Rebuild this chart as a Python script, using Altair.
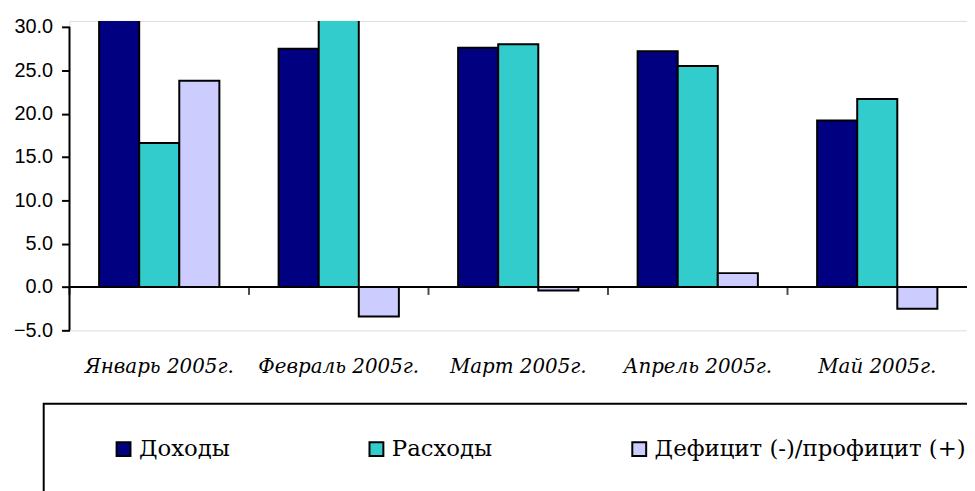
import altair as alt
import pandas as pd

months = ["Январь 2005г.", "Февраль 2005г.", "Март 2005г.", "Апрель 2005г.", "Май 2005г."]
series = ["Доходы", "Расходы", "Дефицит (-)/профицит (+)"]
income = [40.4, 27.5, 27.6, 27.2, 19.2]
expense = [16.6, 30.9, 28.0, 25.5, 21.7]
balance = [23.8, -3.4, -0.4, 1.6, -2.5]
colors = ["#000080", "#33CCCC", "#CCCCFF"]
y_ticks = [-5, 0, 5, 10, 15, 20, 25, 30]
y_max_shown = 30.7

rows = []
for i, m in enumerate(months):
    for s, vals in zip(series, [income, expense, balance]):
        rows.append({"month": m, "series": s, "value": vals[i]})
df = pd.DataFrame(rows)

yscale = alt.Scale(domain=[min(y_ticks), y_max_shown], nice=False, zero=False)

bars = alt.Chart(df).mark_bar(clip=True, stroke="black", strokeWidth=2).encode(
    x=alt.X("month:N", sort=months, title=None,
            scale=alt.Scale(paddingInner=0.33, paddingOuter=0.165),
            axis=alt.Axis(domain=False, ticks=False, tickSize=0, labelAngle=0,
                          labelFont="DejaVu Serif", labelFontStyle="italic",
                          labelFontSize=20, labelColor="black", labelPadding=27,
                          labelLimit=0)),
    xOffset=alt.XOffset("series:N", sort=series, scale=alt.Scale(paddingInner=0, paddingOuter=0)),
    y=alt.Y("value:Q", scale=yscale, stack=None, title=None,
            axis=alt.Axis(values=y_ticks, format=".1f", domain=False, grid=False,
                          tickSize=8, tickWidth=2, tickColor="black",
                          labelFont="Liberation Sans", labelFontSize=20,
                          labelColor="black", labelPadding=9)),
    color=alt.Color("series:N", sort=series,
                    scale=alt.Scale(domain=series, range=colors),
                    legend=alt.Legend(orient="none", legendX=-26, legendY=386,
                                      direction="horizontal", title=" ",
                                      titleOrient="left", titleFontSize=1,
                                      titlePadding=35, padding=34,
                                      strokeColor="black",
                                      symbolType="square", symbolSize=196,
                                      symbolStrokeColor="black", symbolStrokeWidth=2,
                                      symbolOpacity=1, labelOffset=4,
                                      labelFont="DejaVu Serif", labelFontSize=23,
                                      labelColor="black", labelLimit=0,
                                      columnPadding=136)),
)

zero_df = pd.DataFrame({"z": [0]})
zero_line = alt.Chart(zero_df).mark_rule(color="black", strokeWidth=2).encode(
    y=alt.Y("z:Q", scale=yscale)
)

axis_df = pd.DataFrame({"lo": [min(y_ticks)], "hi": [max(y_ticks)]})
y_line = alt.Chart(axis_df).mark_rule(color="black", strokeWidth=2).encode(
    x=alt.value(0),
    y=alt.Y("lo:Q", scale=yscale),
    y2="hi:Q",
)

tick_df = pd.DataFrame({"month": months, "z": [0] * len(months)})
cat_ticks = alt.Chart(tick_df).mark_tick(orient="vertical", size=8, thickness=2,
                                         color="black", yOffset=4).encode(
    x=alt.X("month:N", sort=months, axis=None, bandPosition=0,
            scale=alt.Scale(paddingInner=0, paddingOuter=0)),
    y=alt.Y("z:Q", scale=yscale),
)

chart = alt.layer(bars, zero_line, y_line, cat_ticks).resolve_scale(
    x="independent"
).properties(
    width=905, height=312,
    autosize=alt.AutoSizeParams(type="none"),
    padding={"left": 62, "top": 11, "right": 0, "bottom": 160},
).configure_view(stroke=None).configure(background="white").configure_legend(
    strokeWidth=2
)

chart.save("out.html", embed_options={"renderer": "svg", "actions": False})
